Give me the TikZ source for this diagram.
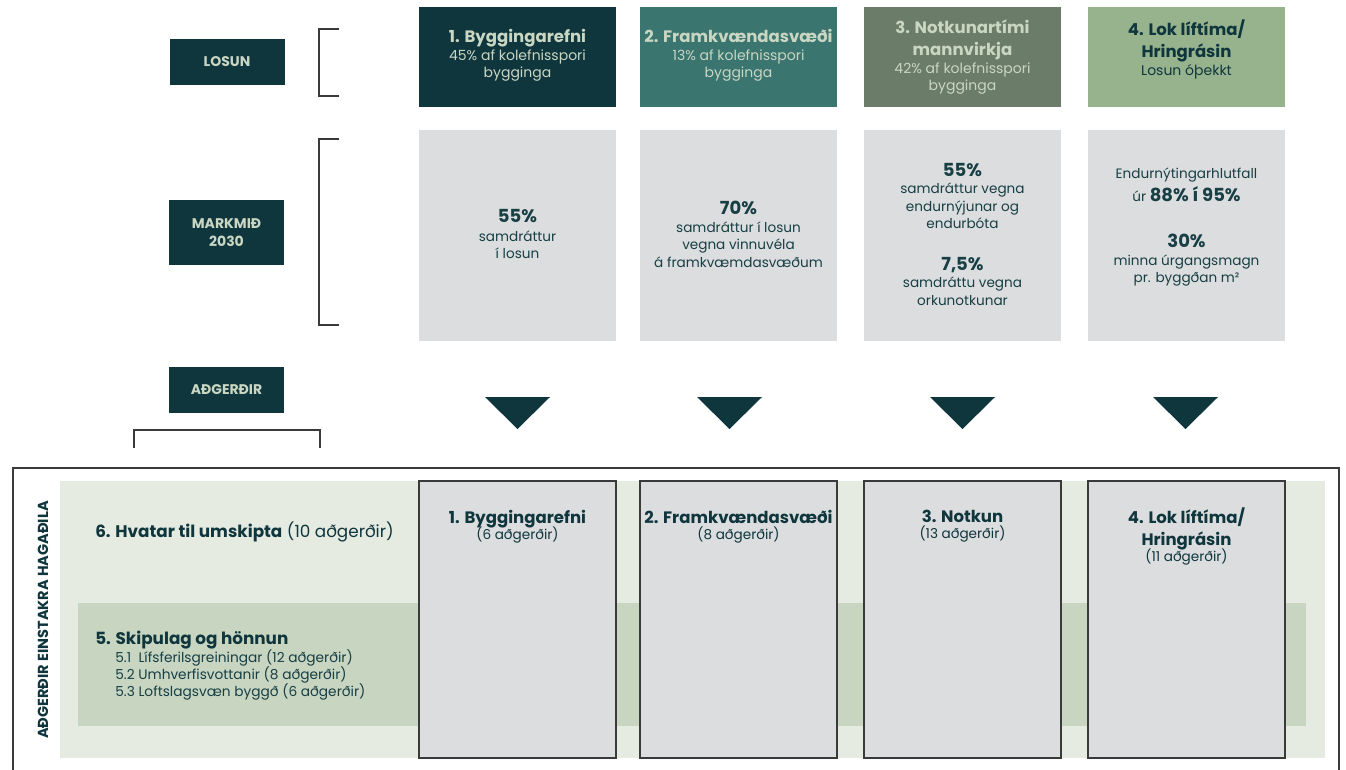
\documentclass[tikz,border=0pt]{standalone}
\usepackage{fontspec}
\setmainfont{Poppins}
\definecolor{dark}{HTML}{0F363D}
\definecolor{teal2}{HTML}{3A7570}
\definecolor{olive3}{HTML}{6B7C68}
\definecolor{sage4}{HTML}{97B38E}
\definecolor{lightt}{HTML}{C9D6C2}
\definecolor{grayb}{HTML}{DCDDDF}
\definecolor{bgA}{HTML}{E6EBE2}
\definecolor{bgB}{HTML}{C8D5C1}
\definecolor{txt}{HTML}{173F44}
\definecolor{linec}{HTML}{3A3A3A}
\tikzset{
  lbl/.style={fill=dark, text=lightt, font=\bfseries\fontsize{10.5}{13}\selectfont, align=center, inner sep=0pt, minimum width=86.25pt},
  topbox/.style={inner sep=0pt, minimum width=147.75pt, minimum height=75pt},
  midbox/.style={fill=grayb, inner sep=0pt, minimum width=147.75pt, minimum height=158.25pt},
  botbox/.style={fill=grayb, draw=linec, line width=0.8pt, inner sep=0pt, minimum width=147.75pt, minimum height=207.75pt},
  ttl/.style={align=center, inner sep=0pt, anchor=north, font=\fontsize{10.5}{12.9}\selectfont},
  mtxt/.style={align=center, inner sep=0pt, anchor=north, text=txt, font=\fontsize{10.2}{13.1}\selectfont},
  brk/.style={draw=linec, line width=0.9pt},
  tri/.style={fill=dark},
}
\newcommand{\tb}[1]{{\bfseries\fontsize{12.4}{16}\selectfont #1}}
\newcommand{\mb}[1]{{\bfseries\fontsize{13.5}{16}\selectfont #1}}
\begin{document}
\begin{tikzpicture}[x=0.75pt,y=-0.75pt]
\useasboundingbox (0,0) rectangle (1346,769);
\fill[white] (0,0) rectangle (1346,769);

% left labels
\node[lbl, minimum height=34.5pt] (losun) at (227,62) {LOSUN};
\node[lbl, minimum height=48.75pt] (markmid) at (226.5,232.5) {MARKMIÐ\\2030};
\node[lbl, minimum height=34.5pt] (adgerdir) at (226.5,390) {AÐGERÐIR};

% brackets
\coordinate (b1a) at (339,29); \coordinate (b1b) at (339,96);
\draw[brk] (b1a) -- (319,29) -- (319,96) -- (b1b);
\coordinate (b2a) at (339,139); \coordinate (b2b) at (339,325);
\draw[brk] (b2a) -- (319,139) -- (319,325) -- (b2b);
\coordinate (b3a) at (134,448); \coordinate (b3b) at (320,448);
\draw[brk] (b3a) -- (134,430) -- (320,430) -- (b3b);

% top boxes
\node[topbox, fill=dark] (t1) at (517.5,57) {};
\node[topbox, fill=teal2] (t2) at (738.5,57) {};
\node[topbox, fill=olive3] (t3) at (962.5,57) {};
\node[topbox, fill=sage4] (t4) at (1186.5,57) {};
\node[ttl, text=lightt] (t1t) at (517.5,29) {\tb{1. Byggingarefni}\\[0.5pt]45\% af kolefnisspori\\bygginga};
\node[ttl, text=lightt] (t2t) at (738.5,29) {\tb{2. Framkvændasvæði}\\[0.5pt]13\% af kolefnisspori\\bygginga};
\node[ttl, text=lightt] (t3t) at (962.5,20) {\tb{3. Notkunartími}\\[3.5pt]\tb{mannvirkja}\\[0.5pt]42\% af kolefnisspori\\bygginga};
\node[ttl, text=dark] (t4t) at (1186.5,20) {\tb{4. Lok líftíma/}\\[3.5pt]\tb{Hringrásin}\\[0.5pt]Losun óþekkt};

% middle boxes
\node[midbox] (m1) at (517.5,235.5) {};
\node[midbox] (m2) at (738.5,235.5) {};
\node[midbox] (m3) at (962.5,235.5) {};
\node[midbox] (m4) at (1186.5,235.5) {};
\node[mtxt] (m1t) at (517.5,209) {\mb{55\%}\\[1pt]samdráttur\\í losun};
\node[mtxt] (m2t) at (738.5,201) {\mb{70\%}\\samdráttur í losun\\vegna vinnuvéla\\á framkvæmdasvæðum};
\node[mtxt] (m3t) at (962.5,163) {\mb{55\%}\\samdráttur vegna\\endurnýjunar og\\endurbóta};
\node[mtxt] (m3u) at (962.5,257) {\mb{7,5\%}\\samdráttu vegna\\orkunotkunar};
\node[mtxt] (m4t) at (1186.5,168) {Endurnýtingarhlutfall\\[2pt]úr \mb{88\% í 95\%}};
\node[mtxt] (m4u) at (1186.5,234) {\mb{30\%}\\minna úrgangsmagn\\pr. byggðan m²};

% triangles
\foreach \cx/\nm in {517.5/tr1, 729.5/tr2, 962.5/tr3, 1185.5/tr4}{
  \fill[tri] (\cx-32.5,397) -- (\cx+32.5,397) -- (\cx,429) -- cycle;
  \coordinate (\nm) at (\cx,413);
}

% bottom frame
\draw[draw=linec, line width=0.8pt] (13,770) -- (13,468) -- (1339,468) -- (1339,770);
\fill[bgA] (60,481) rectangle (1325,758);
\fill[bgB] (78,603) rectangle (1306,726);

\node[rotate=90, text=dark, font=\bfseries\fontsize{10.9}{12}\selectfont, inner sep=0pt] (side) at (43,620) {AÐGERÐIR EINSTAKRA HAGAÐILA};

\node[anchor=base west, inner sep=0pt, text=dark, font=\fontsize{12.6}{15}\selectfont] (hv) at (95,537) {\textbf{6. Hvatar til umskipta} (10 aðgerðir)};
\node[anchor=base west, inner sep=0pt, text=dark, font=\bfseries\fontsize{12.6}{15}\selectfont] (sk) at (95,644) {5. Skipulag og hönnun};
\node[anchor=base west, inner sep=0pt, text=txt, font=\fontsize{10.3}{12}\selectfont] (s1) at (115,662) {5.1~~Lífsferilsgreiningar (12 aðgerðir)};
\node[anchor=base west, inner sep=0pt, text=txt, font=\fontsize{10.3}{12}\selectfont] (s2) at (115,679) {5.2 Umhverfisvottanir (8 aðgerðir)};
\node[anchor=base west, inner sep=0pt, text=txt, font=\fontsize{10.3}{12}\selectfont] (s3) at (115,696) {5.3 Loftslagsvæn byggð (6 aðgerðir)};

% bottom boxes
\node[botbox] (c1) at (517.5,619.5) {};
\node[botbox] (c2) at (738.5,619.5) {};
\node[botbox] (c3) at (962.5,619.5) {};
\node[botbox] (c4) at (1186.5,619.5) {};
\node[mtxt, text=dark] (c1t) at (517.5,510) {\tb{1. Byggingarefni}\\[-1pt](6 aðgerðir)};
\node[mtxt, text=dark] (c2t) at (738.5,510) {\tb{2. Framkvændasvæði}\\[-1pt](8 aðgerðir)};
\node[mtxt, text=dark] (c3t) at (962.5,510) {\tb{3. Notkun}\\[-1pt](13 aðgerðir)};
\node[mtxt, text=dark] (c4t) at (1186.5,508) {\tb{4. Lok líftíma/}\\[3pt]\tb{Hringrásin}\\[-1pt](11 aðgerðir)};
\end{tikzpicture}
\end{document}
